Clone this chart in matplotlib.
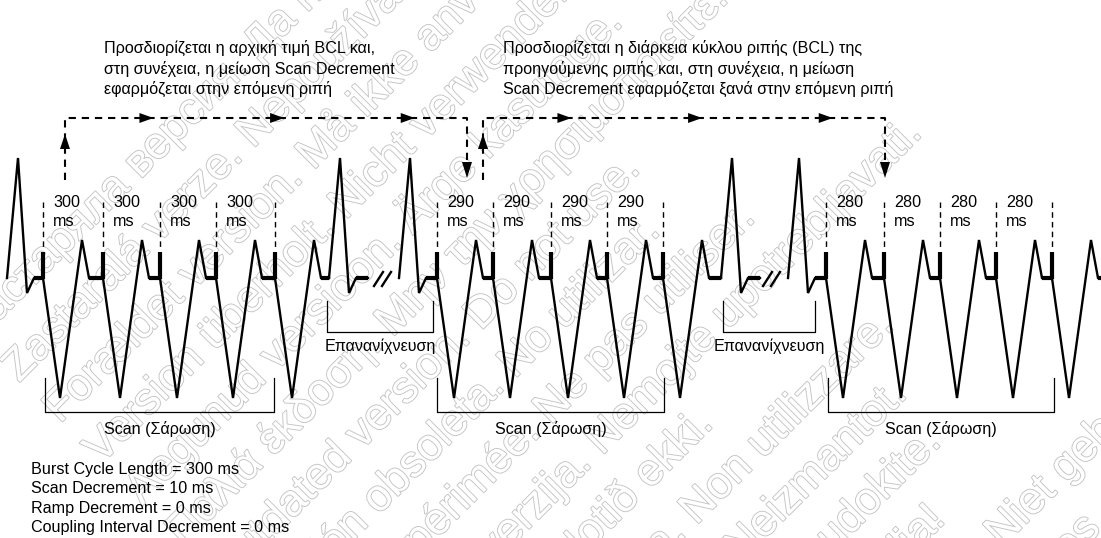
import matplotlib
matplotlib.use("Agg")
from matplotlib import pyplot as plt
import matplotlib.patheffects as pe

# scan groups: burst cycle length and the pacing spikes (diagram units, left to right)
scan_bcl = [300, 290, 280]
scan_spikes = [
    [43, 103, 160, 216, 275],
    [437, 493, 551, 607, 663],
    [826, 884, 940, 996, 1052],
]
# intrinsic beats (onsets) between groups, first pair after a break
first_beat = 7
redetect_beats = [[329, 399], [721, 788]]
breaks = [374, 763]
scan_brackets = [[45, 274], [437, 664], [828, 1054]]
redetect_brackets = [[327, 433], [723, 815]]
# dashed arrow paths on top: start x, end x
top_paths = [[65, 467], [483, 885]]

top_text_1 = ["Προσδιορίζεται η αρχική τιμή BCL και,",
              "στη συνέχεια, η μείωση Scan Decrement",
              "εφαρμόζεται στην επόμενη ριπή"]
top_text_2 = ["Προσδιορίζεται η διάρκεια κύκλου ριπής (BCL) της",
              "προηγούμενης ριπής και, στη συνέχεια, η μείωση",
              "Scan Decrement εφαρμόζεται ξανά στην επόμενη ριπή"]
settings = ["Burst Cycle Length = 300 ms",
            "Scan Decrement = 10 ms",
            "Ramp Decrement = 0 ms",
            "Coupling Interval Decrement = 0 ms"]

watermark = ["Застаряла версия. Да не се използва.",
             "Zastaralá verze. Nepoužívat.",
             "Forældet version. Må ikke anvendes.",
             "Version überholt. Nicht verwenden.",
             "Aegunud versioon. Ärge kasutage.",
             "Παλιά έκδοση. Μην την χρησιμοποιείτε.",
             "Outdated version. Do not use.",
             "Versión obsoleta. No utilizar.",
             "Version périmée. Ne pas utiliser.",
             "Zastarjela verzija. Nemojte upotrebljavati.",
             "Úrelt útgáfa. Notið ekki.",
             "Versione obsoleta. Non utilizzare.",
             "Novecojusi versija. Neizmantot.",
             "Pasenusi versija. Nenaudokite.",
             "Elavult verzió. Ne használja!",
             "Dit is een verouderde versie. Niet gebruiken.",
             "Utdatert versjon. Skal ikke brukes."]

# levels
base = 278
spike_top = 252
trough = 398
peak = 240
r_peak = 158
r_dip = 293

plt.rcParams['font.family'] = ['Liberation Sans', 'DejaVu Sans']
fs = 11.6

fig = plt.figure(figsize=(11.01, 5.38), dpi=100)
ax = fig.add_axes([0, 0, 1, 1])
ax.set_xlim(0, 1101)
ax.set_ylim(538, 0)
ax.axis('off')

# watermark, behind everything
for i, line in enumerate(watermark):
    x0 = -22 + 41 * i
    y0 = 342 + 41 * i
    ax.text(x0, y0, line, fontsize=32, rotation=45, rotation_mode='anchor',
            ha='left', va='baseline', color='white', zorder=0, clip_on=True,
            path_effects=[pe.withStroke(linewidth=1.3, foreground='#c4c4c4')])

lw_main = 1.7
lw_thick = 3.0


def intrinsic(x0, x_end):
    xs = [x0, x0 + 11, x0 + 20, x0 + 27, x_end]
    ys = [base, r_peak, r_dip, base, base]
    ax.plot(xs, ys, color='black', lw=lw_main, solid_joinstyle='miter')
    ax.plot([x0 + 27, x_end], [base, base], color='black', lw=lw_thick, solid_capstyle='butt')


def paced(s, x_end):
    xs = [s, s + 17, s + 39, s + 46, x_end]
    ys = [base, trough, peak, base, base]
    ax.plot(xs, ys, color='black', lw=lw_main, solid_joinstyle='miter')
    ax.plot([s + 46, x_end], [base, base], color='black', lw=lw_thick, solid_capstyle='butt')
    ax.plot([s, s], [spike_top, base + 1], color='black', lw=lw_thick, solid_capstyle='butt')


# waveform
intrinsic(first_beat, scan_spikes[0][0])
for g, spikes in enumerate(scan_spikes):
    for i, s in enumerate(spikes):
        if i + 1 < len(spikes):
            nxt = spikes[i + 1]
        elif g < len(redetect_beats):
            nxt = redetect_beats[g][0]
        else:
            nxt = 1130
        paced(s, nxt)
        # dashed interval markers
        ax.plot([s, s], [202, 250], color='black', lw=1.0, ls=(0, (4, 3)))
        if i + 1 < len(spikes):
            ax.text(s + 10, 207, str(scan_bcl[g]), fontsize=fs, ha='left', va='baseline')
            ax.text(s + 10, 226, 'ms', fontsize=fs, ha='left', va='baseline')
    if g < len(redetect_beats):
        a, b = redetect_beats[g]
        intrinsic(a, a + 39)
        intrinsic(b, scan_spikes[g + 1][0])
        bx = breaks[g]
        for d in [0, 8]:
            ax.plot([bx + d, bx + d + 9], [286, 272], color='black', lw=lw_main)

# brackets
for x0, x1 in scan_brackets:
    ax.plot([x0, x0, x1, x1], [378, 412, 412, 378], color='black', lw=0.9)
    ax.text((x0 + x1) / 2, 434, 'Scan (Σάρωση)', fontsize=fs, ha='center', va='baseline')
for x0, x1 in redetect_brackets:
    ax.plot([x0, x0, x1, x1], [301, 332, 332, 301], color='black', lw=0.9)
    ax.text((x0 + x1) / 2, 351, 'Επανανίχνευση', fontsize=fs, ha='center', va='baseline')

# top dashed arrows
dash = (0, (3.5, 2.8))
for x0, x1 in top_paths:
    ax.plot([x0, x0, x1, x1], [180, 118, 118, 163], color='black', lw=1.5, ls=dash)
    # up arrow
    ax.fill([x0 - 5, x0 + 5, x0], [149, 149, 134], color='black', lw=0)
    # down arrow
    ax.fill([x1 - 5, x1 + 5, x1], [162, 162, 178], color='black', lw=0)
    for f in [0.22, 0.545, 0.87]:
        tip = x0 + f * (x1 - x0)
        ax.fill([tip - 14, tip - 14, tip], [113, 123, 118], color='black', lw=0)

for i, line in enumerate(top_text_1):
    ax.text(104, 53 + 20.7 * i, line, fontsize=fs, ha='left', va='baseline')
for i, line in enumerate(top_text_2):
    ax.text(503, 53 + 20.7 * i, line, fontsize=fs, ha='left', va='baseline')
for i, line in enumerate(settings):
    ax.text(31, 474 + 19.4 * i, line, fontsize=fs, ha='left', va='baseline')

fig.savefig('out.png', dpi=100)
